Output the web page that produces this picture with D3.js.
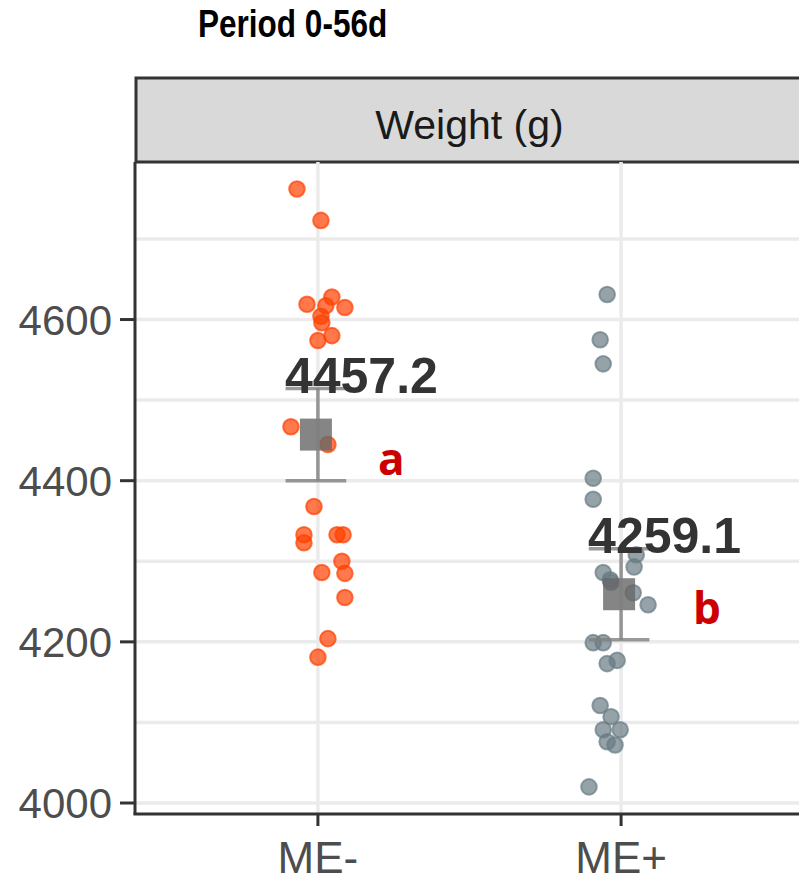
<!DOCTYPE html>
<html>
<head>
<meta charset="utf-8">
<script src="https://cdn.jsdelivr.net/npm/d3@7"></script>
<style>
  body { margin: 0; background: #fff; }
  svg { display: block; }
</style>
</head>
<body>
<svg class="weight-frame"></svg>
<script>
// groups and summary values
const groups = ["ME-", "ME+"];
const means = [4457.2, 4259.1];
const ses = [57.2, 56.5];
const letters = ["a", "b"];
const yTicks = [4000, 4200, 4400, 4600];
const yMinor = [4100, 4300, 4500, 4700];

// individual birds (value, horizontal jitter in category units)
const meMinusValues = [4762, 4723, 4619, 4628, 4617, 4615, 4604, 4596, 4580, 4574,
  4467, 4445, 4368, 4333, 4323, 4333, 4333, 4300, 4286, 4285, 4255, 4204, 4181];
const meMinusJitter = [-0.069, 0.010, -0.036, 0.046, 0.026, 0.089, 0.010, 0.013, 0.046, 0,
  -0.089, 0.033, -0.013, -0.046, -0.046, 0.063, 0.083, 0.079, 0.013, 0.089, 0.089, 0.033, 0];
const mePlusValues = [4631, 4575, 4545, 4403, 4377, 4308, 4293, 4286, 4277, 4261, 4246, 4274,
  4199, 4199, 4173, 4177, 4121, 4107, 4091, 4091, 4076, 4072, 4020];
const mePlusJitter = [-0.046, -0.069, -0.059, -0.092, -0.092, 0.050, 0.043, -0.059, -0.036, 0.040, 0.089, -0.033,
  -0.092, -0.059, -0.046, -0.013, -0.069, -0.033, -0.059, -0.003, -0.046, -0.020, -0.106];

const pointColors = ["#FF4000", "#687C84"];

const width = 799, height = 883;
const panel = {left: 136, right: 803, top: 162, bottom: 813, stripTop: 78};

const svg = d3.select(".weight-frame")
  .attr("width", width)
  .attr("height", height);

const xScale = d3.scaleLinear()
  .domain([0.4, 2.6])
  .range([panel.left, panel.right]);

const yScale = d3.scaleLinear()
  .domain([3987.6, 4795.5])
  .range([panel.bottom, panel.top]);

const points = [];
meMinusValues.forEach((v, i) => points.push({g: 0, value: v, jit: meMinusJitter[i]}));
mePlusValues.forEach((v, i) => points.push({g: 1, value: v, jit: mePlusJitter[i]}));

// title
svg.append("text")
  .attr("transform", "translate(198,37) scale(0.83,1)")
  .style("font-family", "'Liberation Sans', Arial, sans-serif")
  .style("font-weight", "bold")
  .style("font-size", "38px")
  .attr("fill", "#000")
  .text("Period 0-56d");

// strip
svg.append("rect")
  .attr("x", panel.left)
  .attr("y", panel.stripTop)
  .attr("width", panel.right - panel.left + 10)
  .attr("height", panel.top - panel.stripTop)
  .attr("fill", "#D9D9D9")
  .attr("stroke", "#333")
  .attr("stroke-width", 3);

svg.append("text")
  .attr("x", (panel.left + panel.right) / 2)
  .attr("y", 139)
  .attr("text-anchor", "middle")
  .style("font-family", "'Liberation Sans', Arial, sans-serif")
  .style("font-size", "41px")
  .attr("fill", "#1A1A1A")
  .text("Weight (g)");

const graph = svg.append("g").attr("class", "graph");

// grid
graph.selectAll(".hgrid")
  .data(yTicks.concat(yMinor))
  .enter().append("line")
  .attr("x1", panel.left)
  .attr("x2", panel.right)
  .attr("y1", d => yScale(d))
  .attr("y2", d => yScale(d))
  .attr("stroke", "#EBEBEB")
  .attr("stroke-width", 3.5);

graph.selectAll(".vgrid")
  .data(groups)
  .enter().append("line")
  .attr("x1", (d, i) => xScale(i + 1))
  .attr("x2", (d, i) => xScale(i + 1))
  .attr("y1", panel.top)
  .attr("y2", panel.bottom)
  .attr("stroke", "#EBEBEB")
  .attr("stroke-width", 3.5);

// jittered points
graph.selectAll(".pt")
  .data(points)
  .enter().append("circle")
  .attr("cx", d => xScale(d.g + 1 + d.jit))
  .attr("cy", d => yScale(d.value))
  .attr("r", 7.8)
  .attr("fill", d => pointColors[d.g])
  .attr("fill-opacity", 0.7)
  .attr("stroke", d => pointColors[d.g])
  .attr("stroke-opacity", 0.7)
  .attr("stroke-width", 2);

// mean square
const half = 16;
graph.selectAll(".mean")
  .data(means)
  .enter().append("rect")
  .attr("x", (d, i) => xScale(i + 1) - half - 2)
  .attr("y", d => yScale(d) - half)
  .attr("width", half * 2)
  .attr("height", half * 2)
  .attr("fill", "#666")
  .attr("fill-opacity", 0.8);

// error bars
const bars = graph.selectAll(".err")
  .data(means)
  .enter().append("g")
  .attr("stroke", "#808080")
  .attr("stroke-opacity", 0.8)
  .attr("stroke-width", 3.5);

bars.append("line")
  .attr("x1", (d, i) => xScale(i + 1))
  .attr("x2", (d, i) => xScale(i + 1))
  .attr("y1", (d, i) => yScale(d + ses[i]))
  .attr("y2", (d, i) => yScale(d - ses[i]));

[1, -1].forEach(s => {
  bars.append("line")
    .attr("x1", (d, i) => xScale(i + 0.9) - 2)
    .attr("x2", (d, i) => xScale(i + 1.1) - 2)
    .attr("y1", (d, i) => yScale(d + s * ses[i]))
    .attr("y2", (d, i) => yScale(d + s * ses[i]));
});

// mean labels
graph.selectAll(".meanlabel")
  .data(means)
  .enter().append("text")
  .attr("x", (d, i) => xScale(i + 1) - 33)
  .attr("y", (d, i) => yScale(d + ses[i]) + 4)
  .style("font-family", "'Liberation Sans', Arial, sans-serif")
  .style("font-weight", "bold")
  .style("font-size", "50px")
  .attr("fill", "#333")
  .text(d => d3.format(".1f")(d));

// significance letters
const letterShift = [{dx: 60, dy: 40}, {dx: 72, dy: 30}];
graph.selectAll(".letter")
  .data(letters)
  .enter().append("text")
  .attr("x", (d, i) => xScale(i + 1) + letterShift[i].dx)
  .attr("y", (d, i) => yScale(means[i]) + letterShift[i].dy)
  .style("font-family", "'Open Sans', sans-serif")
  .style("font-weight", "bold")
  .style("font-size", "44px")
  .attr("fill", "#CC0000")
  .text(d => d);

// axes
const axisColor = "#333";
svg.append("line")
  .attr("x1", panel.left - 1).attr("x2", panel.left - 1)
  .attr("y1", panel.top).attr("y2", panel.bottom + 1.5)
  .attr("stroke", axisColor).attr("stroke-width", 3);

svg.append("line")
  .attr("x1", panel.left - 2.5).attr("x2", width)
  .attr("y1", panel.bottom + 1).attr("y2", panel.bottom + 1)
  .attr("stroke", axisColor).attr("stroke-width", 3);

svg.selectAll(".ytick")
  .data(yTicks)
  .enter().append("line")
  .attr("x1", 120).attr("x2", panel.left - 1)
  .attr("y1", d => yScale(d)).attr("y2", d => yScale(d))
  .attr("stroke", axisColor).attr("stroke-width", 3);

svg.selectAll(".ylab")
  .data(yTicks)
  .enter().append("text")
  .attr("x", 112)
  .attr("y", d => yScale(d) + 15)
  .attr("text-anchor", "end")
  .style("font-family", "'Liberation Sans', Arial, sans-serif")
  .style("font-size", "42px")
  .attr("fill", "#4D4D4D")
  .text(d => d);

svg.selectAll(".xtick")
  .data(groups)
  .enter().append("line")
  .attr("x1", (d, i) => xScale(i + 1)).attr("x2", (d, i) => xScale(i + 1))
  .attr("y1", panel.bottom + 1).attr("y2", panel.bottom + 13)
  .attr("stroke", axisColor).attr("stroke-width", 3);

svg.selectAll(".xlab")
  .data(groups)
  .enter().append("text")
  .attr("x", (d, i) => xScale(i + 1))
  .attr("y", 873)
  .attr("text-anchor", "middle")
  .style("font-family", "'Liberation Sans', Arial, sans-serif")
  .style("font-size", "44px")
  .attr("fill", "#4D4D4D")
  .text(d => d);
</script>
</body>
</html>
